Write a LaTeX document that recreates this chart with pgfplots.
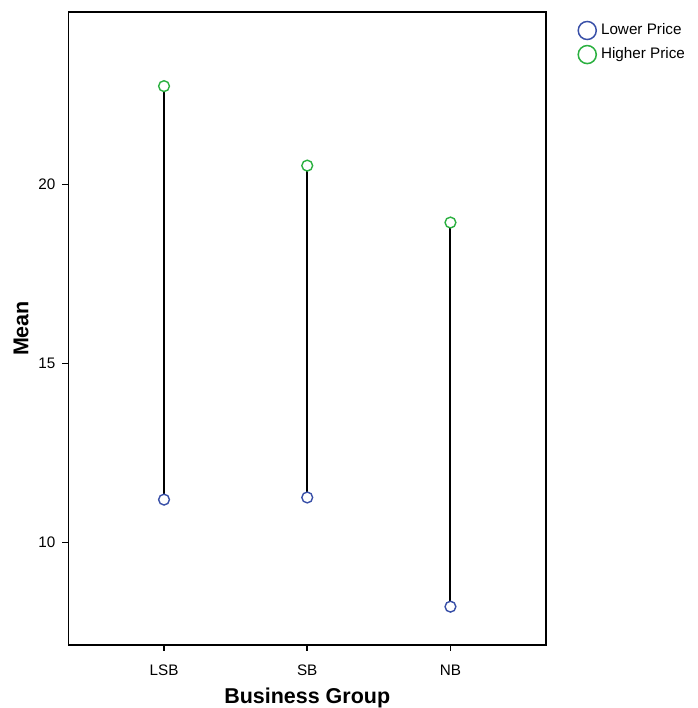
\documentclass[border=0pt]{standalone}
\usepackage{pgfplots}
\pgfplotsset{compat=1.18}
\usepackage{fontspec}
\setmainfont{Liberation Sans}
\definecolor{lowc}{RGB}{57,80,168}
\definecolor{highc}{RGB}{43,176,64}
\begin{document}
\begin{tikzpicture}
\begin{axis}[
  name=ax,
  scale only axis,
  width=238pt, height=315.5pt,
  xmin=-0.667, xmax=2.667,
  ymin=7.14, ymax=24.82,
  xtick={0,1,2}, xticklabels={LSB,SB,NB},
  ytick={10,15,20},
  tick align=outside, xtick pos=bottom, ytick pos=left,
  major tick length=3pt,
  axis line style={line width=0.75pt},
  every tick/.style={black, line width=0.75pt},
  tick label style={font=\fontsize{7.6}{9}\selectfont},
  xticklabel style={yshift=-3.5pt},
  /pgf/number format/assume math mode=true,
  xlabel={\textbf{Business Group}},
  ylabel={\textbf{Mean}},
  label style={font=\fontsize{10.7}{12}\selectfont},
  xlabel style={inner sep=0pt, yshift=-2.5pt},
  ylabel style={yshift=-2pt},
  legend style={at={(rel axis cs:1,1)}, anchor=north west, xshift=12.5pt, yshift=-1.5pt,
    draw=none, fill=none, font=\fontsize{7.6}{9}\selectfont,
    row sep=1pt, legend cell align=left},
  legend image code/.code={\draw[#1, line width=0.75pt] (0.25cm,0cm) circle (4.5pt);},
  clip=false,
]
\addplot[black, line width=1pt, forget plot] coordinates {(0,11.20) (0,22.75)};
\addplot[black, line width=1pt, forget plot] coordinates {(1,11.26) (1,20.53)};
\addplot[black, line width=1pt, forget plot] coordinates {(2,8.21) (2,18.94)};
\addplot[only marks, mark=*, mark size=2.7pt, lowc, mark options={fill=white, line width=0.7pt}] coordinates {(0,11.20) (1,11.26) (2,8.21)};
\addlegendentry{Lower Price}
\addplot[only marks, mark=*, mark size=2.7pt, highc, mark options={fill=white, line width=0.7pt}] coordinates {(0,22.75) (1,20.53) (2,18.94)};
\addlegendentry{Higher Price}
\end{axis}
\path (ax.north west) ++(0,6pt);
\path (current bounding box.west) ++(-3.5pt,0);
\path (current bounding box.east) ++(1.5pt,0);
\end{tikzpicture}
\end{document}
